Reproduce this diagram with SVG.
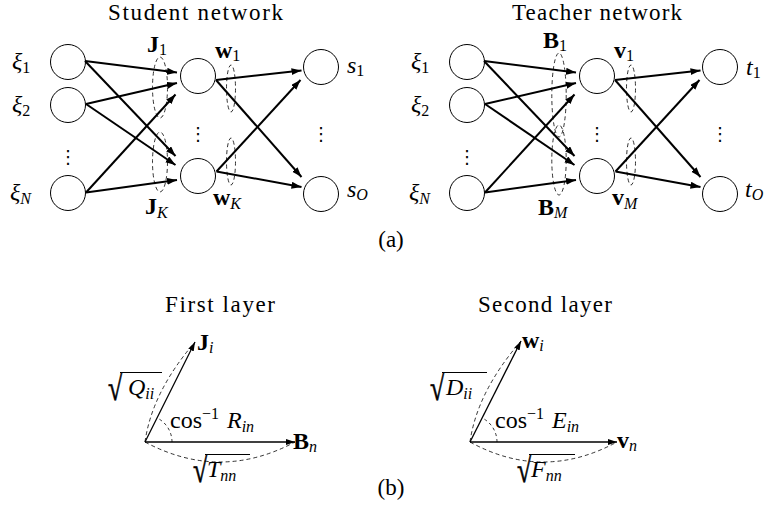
<svg xmlns="http://www.w3.org/2000/svg" width="769" height="511" viewBox="0 0 769 511">
<defs>
<marker id="ah" markerUnits="userSpaceOnUse" markerWidth="11" markerHeight="8" refX="10" refY="3.5" orient="auto"><path d="M0,0 L10,3.5 L0,7 z" fill="#000"/></marker>
<marker id="ah2" markerUnits="userSpaceOnUse" markerWidth="10" markerHeight="7" refX="9" refY="3" orient="auto"><path d="M0,0 L9,3 L0,6 z" fill="#000"/></marker>
<style>
.n{fill:#fff;stroke:#000;stroke-width:1}
.a{stroke:#000;stroke-width:2;fill:none;marker-end:url(#ah)}
.a2{stroke:#000;stroke-width:1.3;fill:none;marker-end:url(#ah2)}
.d{fill:none;stroke:#000;stroke-width:0.8;stroke-dasharray:4 3}
.d2{fill:none;stroke:#000;stroke-width:0.8;stroke-dasharray:3 3}
.ol{stroke:#000;stroke-width:1.1}
text{font-family:"Liberation Serif","Times New Roman",serif;fill:#000}
.t{font-size:23px}
.m{font-size:24px}
.i{font-style:italic}
.b{font-weight:bold}
.s{font-size:16px}
.v{font-family:"DejaVu Sans",sans-serif;font-size:18px}
.r{font-size:26px;stroke:#000;stroke-width:0.5}
</style>
</defs>

<!-- Student network -->
<text class="t" x="195.5" y="20" text-anchor="middle" textLength="175">Student network</text>
<g id="s-x1"><circle class="n" cx="68" cy="62" r="17.5"/><text class="m" x="12" y="69"><tspan class="i">ξ</tspan><tspan class="s" dy="4">1</tspan></text></g>
<g id="s-x2"><circle class="n" cx="68" cy="105" r="17.5"/><text class="m" x="12" y="112"><tspan class="i">ξ</tspan><tspan class="s" dy="4">2</tspan></text></g>
<g id="s-xN"><circle class="n" cx="68" cy="193" r="17.5"/><text class="m" x="10" y="200"><tspan class="i">ξ</tspan><tspan class="s i" dy="4">N</tspan></text></g>
<g id="s-h1"><circle class="n" cx="198" cy="76" r="17.5"/></g>
<g id="s-hK"><circle class="n" cx="198" cy="176" r="17.5"/></g>
<g id="s-o1"><circle class="n" cx="321" cy="67" r="17.5"/><text class="m" x="347" y="73"><tspan class="i">s</tspan><tspan class="s" dy="3">1</tspan></text></g>
<g id="s-oO"><circle class="n" cx="321" cy="194" r="17.5"/><text class="m" x="347" y="197"><tspan class="i">s</tspan><tspan class="s i" dy="3">O</tspan></text></g>
<g id="s-dots">
<text class="v" x="68" y="163" text-anchor="middle">⋮</text>
<text class="v" x="198" y="140" text-anchor="middle">⋮</text>
<text class="v" x="321" y="140" text-anchor="middle">⋮</text>
</g>
<g id="s-edges">
<line class="a" x1="85" y1="61" x2="177" y2="72.5"/>
<line class="a" x1="85" y1="61" x2="175.5" y2="156"/>
<line class="a" x1="86" y1="104" x2="177" y2="83"/>
<line class="a" x1="86" y1="104" x2="175.5" y2="165"/>
<line class="a" x1="86" y1="192.5" x2="175.5" y2="94.5"/>
<line class="a" x1="86" y1="192.5" x2="177" y2="180"/>
<line class="a" x1="216" y1="80" x2="301.5" y2="70.5"/>
<line class="a" x1="216" y1="80" x2="301.5" y2="177"/>
<line class="a" x1="216.5" y1="171.5" x2="300.5" y2="80"/>
<line class="a" x1="216.5" y1="171.5" x2="301.5" y2="187"/>
</g>
<g id="s-weights">
<ellipse class="d" cx="160" cy="87.5" rx="7.5" ry="30.5"/>
<ellipse class="d" cx="160" cy="162" rx="7.5" ry="30"/>
<ellipse class="d" cx="231" cy="88.5" rx="4.5" ry="23.5"/>
<ellipse class="d" cx="231" cy="161.5" rx="4.5" ry="23.5"/>
<text class="m" x="147" y="52"><tspan class="b">J</tspan><tspan class="s" dy="3">1</tspan></text>
<text class="m" x="145" y="214"><tspan class="b">J</tspan><tspan class="s i" dy="4">K</tspan></text>
<text class="m" x="215" y="58"><tspan class="b">w</tspan><tspan class="s" dy="3">1</tspan></text>
<text class="m" x="213" y="205"><tspan class="b">w</tspan><tspan class="s i" dy="4">K</tspan></text>
</g>

<!-- Teacher network -->
<text class="t" x="597" y="20" text-anchor="middle" textLength="170">Teacher network</text>
<g id="t-x1"><circle class="n" cx="467" cy="62" r="17.5"/><text class="m" x="411" y="69"><tspan class="i">ξ</tspan><tspan class="s" dy="4">1</tspan></text></g>
<g id="t-x2"><circle class="n" cx="467" cy="105" r="17.5"/><text class="m" x="411" y="112"><tspan class="i">ξ</tspan><tspan class="s" dy="4">2</tspan></text></g>
<g id="t-xN"><circle class="n" cx="467" cy="193" r="17.5"/><text class="m" x="409" y="200"><tspan class="i">ξ</tspan><tspan class="s i" dy="4">N</tspan></text></g>
<g id="t-h1"><circle class="n" cx="597" cy="76" r="17.5"/></g>
<g id="t-hM"><circle class="n" cx="597" cy="176" r="17.5"/></g>
<g id="t-o1"><circle class="n" cx="720" cy="67" r="17.5"/><text class="m" x="746" y="75"><tspan class="i">t</tspan><tspan class="s" dy="3">1</tspan></text></g>
<g id="t-oO"><circle class="n" cx="720" cy="194" r="17.5"/><text class="m" x="745" y="197"><tspan class="i">t</tspan><tspan class="s i" dy="3">O</tspan></text></g>
<g id="t-dots">
<text class="v" x="467" y="163" text-anchor="middle">⋮</text>
<text class="v" x="597" y="140" text-anchor="middle">⋮</text>
<text class="v" x="720" y="140" text-anchor="middle">⋮</text>
</g>
<g id="t-edges">
<line class="a" x1="484" y1="61" x2="576" y2="72.5"/>
<line class="a" x1="484" y1="61" x2="574.5" y2="156"/>
<line class="a" x1="485" y1="104" x2="576" y2="83"/>
<line class="a" x1="485" y1="104" x2="574.5" y2="165"/>
<line class="a" x1="485" y1="192.5" x2="574.5" y2="94.5"/>
<line class="a" x1="485" y1="192.5" x2="576" y2="180"/>
<line class="a" x1="615" y1="80" x2="700.5" y2="70.5"/>
<line class="a" x1="615" y1="80" x2="700.5" y2="177"/>
<line class="a" x1="615.5" y1="171.5" x2="699.5" y2="80"/>
<line class="a" x1="615.5" y1="171.5" x2="700.5" y2="187"/>
</g>
<g id="t-weights">
<ellipse class="d" cx="559" cy="95" rx="7.2" ry="42"/>
<ellipse class="d" cx="559" cy="160" rx="7.2" ry="35"/>
<ellipse class="d" cx="631" cy="88.5" rx="4.5" ry="23.5"/>
<ellipse class="d" cx="631" cy="161.5" rx="4.5" ry="23.5"/>
<text class="m" x="543" y="48"><tspan class="b">B</tspan><tspan class="s" dy="3">1</tspan></text>
<text class="m" x="538" y="215"><tspan class="b">B</tspan><tspan class="s i" dy="3">M</tspan></text>
<text class="m" x="614" y="58"><tspan class="b">v</tspan><tspan class="s" dy="3">1</tspan></text>
<text class="m" x="612" y="205"><tspan class="b">v</tspan><tspan class="s i" dy="4">M</tspan></text>
</g>
<text class="t" x="391" y="247" text-anchor="middle">(a)</text>

<!-- First layer -->
<text class="t" x="220" y="312" text-anchor="middle" textLength="110">First layer</text>
<g id="first-layer">
<path class="d" d="M145,442 Q152,392 195,342"/>
<path class="d" d="M145,442 Q220,482 295,442"/>
<path class="d2" d="M172,442 A27,27 0 0 0 157.1,417.9"/>
<line class="a2" x1="145" y1="442" x2="195" y2="342"/>
<line class="a2" x1="145" y1="442" x2="295" y2="442"/>
<text class="m" x="197" y="350"><tspan class="b">J</tspan><tspan class="s i" dy="3">i</tspan></text>
<text class="m" x="293" y="449"><tspan class="b">B</tspan><tspan class="s i" dy="3">n</tspan></text>
<text class="m" x="170" y="428">cos<tspan class="s" dy="-9">−1</tspan><tspan class="i" x="227" dy="9">R</tspan><tspan class="s i" dy="4">in</tspan></text>
<text class="r" transform="translate(108,400) scale(1,1.35)">√</text><line class="ol" x1="120" y1="372.5" x2="162" y2="372.5"/>
<text class="m" x="128" y="395"><tspan class="i">Q</tspan><tspan class="s i" dy="4">ii</tspan></text>
<text class="r" transform="translate(193,482) scale(1,1.35)">√</text><line class="ol" x1="205" y1="454.5" x2="250" y2="454.5"/>
<text class="m" x="207" y="477"><tspan class="i">T</tspan><tspan class="s i" dy="4">nn</tspan></text>
</g>

<!-- Second layer -->
<text class="t" x="545" y="312" text-anchor="middle" textLength="134">Second layer</text>
<g id="second-layer">
<path class="d" d="M470,442 Q477,392 521,341"/>
<path class="d" d="M470,442 Q543,482 617,442"/>
<path class="d2" d="M497,442 A27,27 0 0 0 482.1,417.9"/>
<line class="a2" x1="470" y1="442" x2="521" y2="341"/>
<line class="a2" x1="470" y1="442" x2="617" y2="442"/>
<text class="m" x="522" y="348"><tspan class="b">w</tspan><tspan class="s i" dy="3">i</tspan></text>
<text class="m" x="617" y="448"><tspan class="b">v</tspan><tspan class="s i" dy="3">n</tspan></text>
<text class="m" x="495" y="428">cos<tspan class="s" dy="-9">−1</tspan><tspan class="i" x="552" dy="9">E</tspan><tspan class="s i" dy="4">in</tspan></text>
<text class="r" transform="translate(430,400) scale(1,1.35)">√</text><line class="ol" x1="442" y1="372.5" x2="487" y2="372.5"/>
<text class="m" x="446" y="395"><tspan class="i">D</tspan><tspan class="s i" dy="4">ii</tspan></text>
<text class="r" transform="translate(517,482) scale(1,1.35)">√</text><line class="ol" x1="529" y1="454.5" x2="575" y2="454.5"/>
<text class="m" x="531" y="477"><tspan class="i">F</tspan><tspan class="s i" dy="4">nn</tspan></text>
</g>
<text class="t" x="391" y="495" text-anchor="middle">(b)</text>
</svg>
